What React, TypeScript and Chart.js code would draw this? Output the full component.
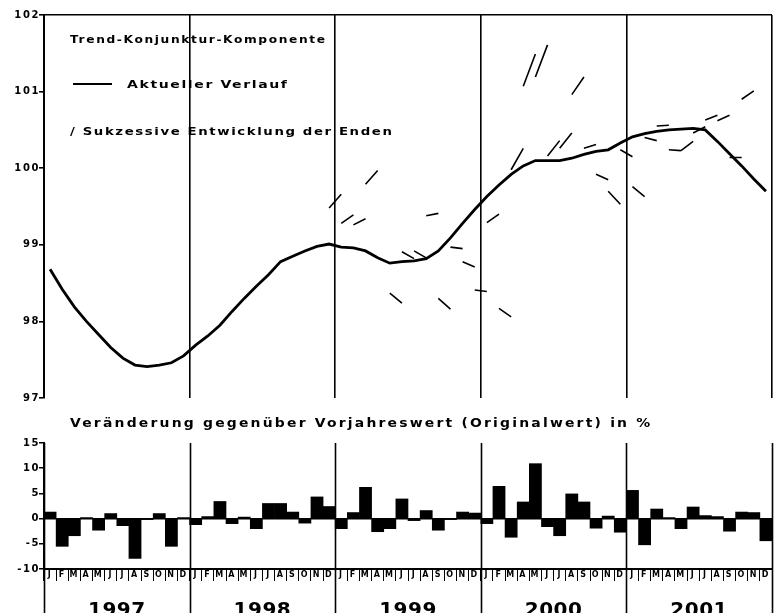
import { useEffect, useRef } from 'react';
import { Chart, registerables } from 'chart.js';

Chart.register(...registerables);

// ---------- data ----------
const MONTH_LETTERS = ['J', 'F', 'M', 'A', 'M', 'J', 'J', 'A', 'S', 'O', 'N', 'D'];
const YEARS = ['1997', '1998', '1999', '2000', '2001'];

// Trend-Konjunktur-Komponente (aktueller Verlauf), monthly
const TREND_1997 = [98.68, 98.42, 98.19, 98.0, 97.83, 97.66, 97.52, 97.43, 97.41, 97.43, 97.46, 97.55];
const TREND_1998 = [97.69, 97.81, 97.95, 98.13, 98.3, 98.46, 98.61, 98.78, 98.85, 98.92, 98.98, 99.01];
const TREND_1999 = [98.97, 98.96, 98.92, 98.83, 98.76, 98.78, 98.79, 98.82, 98.92, 99.09, 99.28, 99.46];
const TREND_2000 = [99.63, 99.78, 99.92, 100.03, 100.1, 100.1, 100.1, 100.13, 100.18, 100.22, 100.24, 100.33];
const TREND_2001 = [100.41, 100.45, 100.48, 100.5, 100.51, 100.52, 100.5, 100.35, 100.19, 100.03, 99.86, 99.7];

// Sukzessive Entwicklung der Enden: segment from month index to next month
const END_MONTH = [23, 24, 25, 26, 28, 29, 30, 31, 32, 33, 34, 35, 36, 37, 38, 39, 40, 41, 42, 43, 44, 45, 46, 47, 48, 49, 50, 51, 52, 53, 54, 55, 56, 57];
const END_FROM = [99.48, 99.28, 99.26, 99.79, 98.37, 98.91, 98.92, 99.38, 98.3, 98.97, 98.78, 98.41, 99.29, 98.17, 99.98, 101.07, 101.19, 100.16, 100.26, 100.96, 100.26, 99.92, 99.7, 100.24, 99.76, 100.4, 100.55, 100.24, 100.23, 100.46, 100.63, 100.62, 100.14, 100.9];
const END_TO = [99.66, 99.39, 99.34, 99.97, 98.24, 98.82, 98.83, 99.41, 98.16, 98.95, 98.71, 98.39, 99.4, 98.06, 100.26, 101.49, 101.61, 100.36, 100.46, 101.19, 100.31, 99.85, 99.53, 100.15, 99.63, 100.36, 100.56, 100.23, 100.35, 100.54, 100.69, 100.69, 100.14, 101.01];

// Veränderung gegenüber Vorjahreswert (Originalwert) in %
const CHANGE_1997 = [1.3, -5.5, -3.4, 0.2, -2.3, 1.0, -1.4, -7.9, -0.2, 1.0, -5.5, 0.2];
const CHANGE_1998 = [-1.2, 0.4, 3.4, -1.0, 0.3, -2.0, 3.0, 3.0, 1.3, -0.9, 4.3, 2.4];
const CHANGE_1999 = [-2.0, 1.2, 6.2, -2.6, -2.0, 3.9, -0.4, 1.6, -2.3, -0.2, 1.3, 1.1];
const CHANGE_2000 = [-1.0, 6.4, -3.7, 3.3, 10.9, -1.6, -3.4, 4.9, 3.3, -1.9, 0.5, -2.7];
const CHANGE_2001 = [5.6, -5.2, 1.9, 0.2, -2.0, 2.3, 0.6, 0.4, -2.5, 1.3, 1.2, -4.4];

const TOP_TICKS = [97, 98, 99, 100, 101, 102];
const BOTTOM_TICKS = [-10, -5, 0, 5, 10, 15];

const TREND = [...TREND_1997, ...TREND_1998, ...TREND_1999, ...TREND_2000, ...TREND_2001];
const CHANGES = [...CHANGE_1997, ...CHANGE_1998, ...CHANGE_1999, ...CHANGE_2000, ...CHANGE_2001];
const MONTH_LABELS = YEARS.flatMap(() => MONTH_LETTERS);

const TICK_FONT = { family: 'DejaVu Sans', weight: 'bold' as const, size: 10 };

// draws text stretched horizontally so it spans a given width (wide plotter lettering)
function wideText(ctx: any, text: string, x: number, y: number, width: number, gap: number) {
  ctx.save();
  ctx.letterSpacing = '0px';
  const w = ctx.measureText(text).width;
  const sx = Math.max(0.5, (width - gap * (text.length - 1)) / w);
  ctx.translate(x, y);
  ctx.scale(sx, 1);
  ctx.letterSpacing = (gap / sx).toFixed(2) + 'px';
  ctx.fillText(text, 0, 0);
  ctx.restore();
}

const spacingPlugin = {
  id: 'spacing',
  beforeDraw(chart: any) {
    chart.ctx.letterSpacing = '1.6px';
  },
  afterDraw(chart: any) {
    chart.ctx.letterSpacing = '0px';
  },
};

const topTextPlugin = {
  id: 'topText',
  afterDraw(chart: any) {
    const ctx = chart.ctx;
    ctx.save();
    ctx.fillStyle = '#000';
    ctx.strokeStyle = '#000';
    ctx.font = 'bold 11px "DejaVu Sans"';
    ctx.textAlign = 'left';
    ctx.textBaseline = 'alphabetic';
    wideText(ctx, 'Trend-Konjunktur-Komponente', 70, 43, 255, 1.6);
    wideText(ctx, 'Aktueller Verlauf', 127, 88, 160, 1.6);
    wideText(ctx, '/ Sukzessive Entwicklung der Enden', 70, 135, 322, 1.6);
    ctx.lineWidth = 2;
    ctx.beginPath();
    ctx.moveTo(73, 84);
    ctx.lineTo(112, 84);
    ctx.stroke();
    ctx.restore();
  },
};

const bottomDecorPlugin = {
  id: 'bottomDecor',
  afterDraw(chart: any) {
    const ctx = chart.ctx;
    const xs = chart.scales.x;
    const top = chart.chartArea.top;
    ctx.save();
    ctx.strokeStyle = '#000';
    ctx.lineWidth = 1.6;
    ctx.beginPath();
    for (let k = 0; k <= YEARS.length; k++) {
      const px = Math.round(xs.getPixelForValue(k * 12 - 0.5)) + 0.5;
      ctx.moveTo(px, top);
      ctx.lineTo(px, chart.height);
    }
    ctx.stroke();
    ctx.fillStyle = '#000';
    ctx.font = 'bold 20px "DejaVu Sans"';
    ctx.letterSpacing = '0.5px';
    ctx.textAlign = 'center';
    ctx.textBaseline = 'alphabetic';
    YEARS.forEach((y, k) => {
      const cx = xs.getPixelForValue(k * 12 + 5.5);
      ctx.fillText(y, cx, 216);
    });
    ctx.font = 'bold 12px "DejaVu Sans"';
    ctx.textAlign = 'left';
    wideText(ctx, 'Veränderung gegenüber Vorjahreswert (Originalwert) in %', 70, 27, 580, 2.2);
    ctx.restore();
  },
};

export default function App() {
  const topRef = useRef<HTMLCanvasElement | null>(null);
  const bottomRef = useRef<HTMLCanvasElement | null>(null);

  useEffect(() => {
    const trendPoints = TREND.map((v, i) => ({ x: i + 0.5, y: v }));
    const endPoints: any[] = [];
    END_MONTH.forEach((m, i) => {
      endPoints.push({ x: m + 0.5, y: END_FROM[i] });
      endPoints.push({ x: m + 1.5, y: END_TO[i] });
      endPoints.push({ x: m + 1.5, y: null });
    });

    const top = new Chart(topRef.current as HTMLCanvasElement, {
      type: 'line',
      data: {
        datasets: [
          {
            data: trendPoints,
            borderColor: '#000',
            borderWidth: 2.8,
            pointRadius: 0,
            tension: 0,
          },
          {
            data: endPoints,
            borderColor: '#000',
            borderWidth: 1.6,
            pointRadius: 0,
            spanGaps: false,
          },
        ],
      },
      options: {
        animation: false,
        responsive: false,
        events: [],
        layout: { padding: { left: 0, right: 6, top: 15, bottom: 12 } },
        plugins: { legend: { display: false }, tooltip: { enabled: false }, title: { display: false } },
        scales: {
          x: {
            type: 'linear',
            min: 0,
            max: 60,
            ticks: { display: false, stepSize: 12 },
            grid: { color: '#000', lineWidth: 1.6, drawTicks: false },
            border: { display: false },
            afterFit: (s: any) => {
              s.height = 0;
            },
          },
          y: {
            min: 97,
            max: 102,
            afterBuildTicks: (s: any) => {
              s.ticks = TOP_TICKS.map((v) => ({ value: v }));
            },
            ticks: { color: '#000', font: TICK_FONT, padding: -1 },
            grid: {
              color: (c: any) => (c.tick && c.tick.value === 102 ? '#000' : 'rgba(0,0,0,0)'),
              lineWidth: 1.6,
              tickColor: '#000',
              tickLength: 5,
            },
            border: { color: '#000', width: 2 },
            afterFit: (s: any) => {
              s.width = 44;
            },
          },
        },
      } as any,
      plugins: [spacingPlugin, topTextPlugin],
    });

    const bottom = new Chart(bottomRef.current as HTMLCanvasElement, {
      type: 'bar',
      data: {
        labels: MONTH_LABELS,
        datasets: [
          {
            data: CHANGES,
            backgroundColor: '#000',
            borderWidth: 0,
            barPercentage: 1,
            categoryPercentage: 1,
          },
        ],
      },
      options: {
        animation: false,
        responsive: false,
        events: [],
        layout: { padding: { left: 0, right: 6, top: 43, bottom: 49 } },
        plugins: { legend: { display: false }, tooltip: { enabled: false }, title: { display: false } },
        scales: {
          x: {
            type: 'category',
            ticks: {
              color: '#000',
              font: { family: 'DejaVu Sans', weight: 'bold', size: 8 },
              padding: -11,
              autoSkip: false,
              maxRotation: 0,
              minRotation: 0,
            },
            grid: {
              drawOnChartArea: false,
              color: '#000',
              tickColor: '#000',
              tickLength: 12,
              lineWidth: 1,
              offset: true,
            },
            border: { color: '#000', width: 2 },
            afterFit: (s: any) => {
              s.height = 12;
            },
          },
          y: {
            min: -10,
            max: 15,
            afterBuildTicks: (s: any) => {
              s.ticks = BOTTOM_TICKS.map((v) => ({ value: v }));
            },
            ticks: { color: '#000', font: TICK_FONT, padding: -1 },
            grid: {
              color: (c: any) => (c.tick && c.tick.value === 0 ? '#000' : 'rgba(0,0,0,0)'),
              lineWidth: 1.5,
              tickColor: '#000',
              tickLength: 5,
            },
            border: { color: '#000', width: 2 },
            afterFit: (s: any) => {
              s.width = 44;
            },
          },
        },
      } as any,
      plugins: [spacingPlugin, bottomDecorPlugin],
    });

    return () => {
      top.destroy();
      bottom.destroy();
    };
  }, []);

  return (
    <div
      style={{
        position: 'fixed',
        left: 0,
        top: 0,
        width: 778,
        height: 613,
        overflow: 'hidden',
        background: '#fff',
      }}
    >
      <canvas
        ref={topRef}
        width={778}
        height={410}
        style={{ position: 'absolute', left: 0, top: 0, width: 778, height: 410 }}
      />
      <canvas
        ref={bottomRef}
        width={778}
        height={230}
        style={{ position: 'absolute', left: 0, top: 400, width: 778, height: 230 }}
      />
    </div>
  );
}
